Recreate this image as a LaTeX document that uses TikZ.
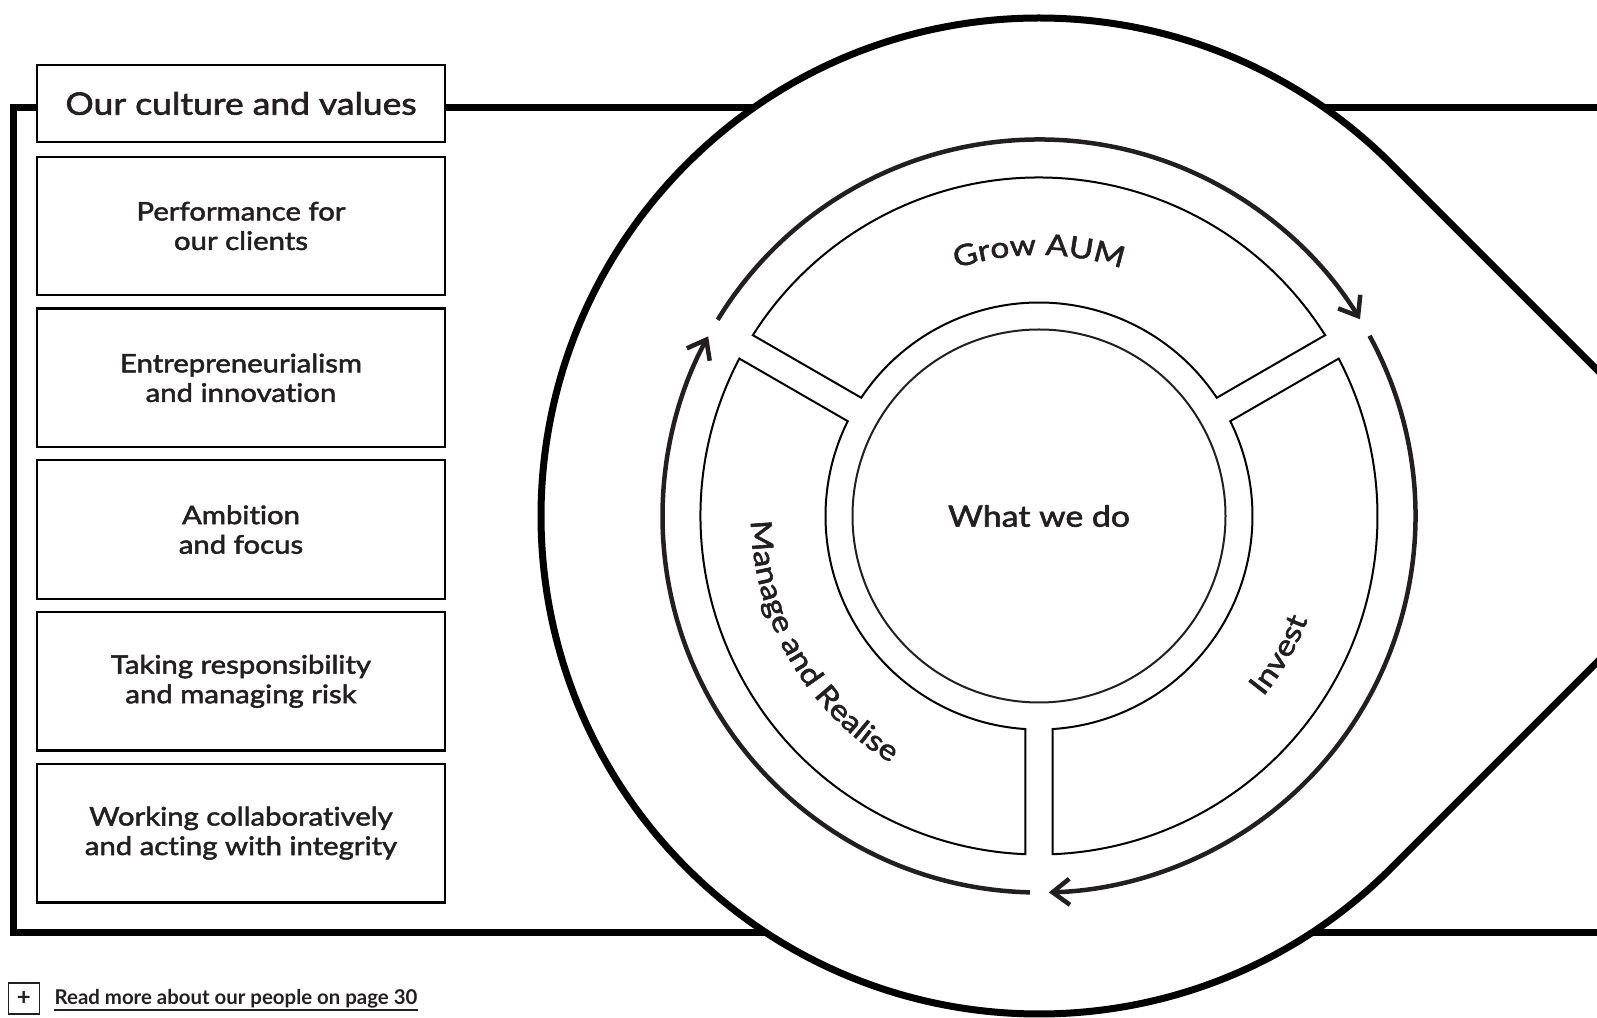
\documentclass[tikz,border=0pt]{standalone}
\usepackage{fontspec}
\setmainfont{Lato}
\newfontfamily\labelfont{Lato}[FakeStretch=1.15, FakeBold=2, Ligatures=NoCommon]
\usepackage{tikz}
\usetikzlibrary{arrows.meta, positioning, decorations.text}
\definecolor{ink}{HTML}{231F20}

\begin{document}
\begin{tikzpicture}[x=0.5pt, y=0.5pt, on grid, node distance=75.9pt,
	valuebox/.style={draw=black, line width=1.15pt, fill=white, minimum width=204pt, minimum height=69.25pt, inner sep=0pt, align=center, text=ink, font=\labelfont\fontsize{12.75}{14.75}\selectfont},
	titlebox/.style={valuebox, minimum height=38.5pt, font=\labelfont\fontsize{15.4}{18}\selectfont},
	plate/.style={line width=3.5pt, black},
	sector/.style={line width=1pt, black},
	flow/.style={line width=2.25pt, ink, -{Straight Barb[length=8.5pt, width=13pt]}},
	segtext/.style={decorate, decoration={text along path, text align=center, text={|\labelfont\fontsize{14.5}{16}\selectfont\color{ink}|#1}}}]
	\useasboundingbox (0,0) rectangle (1597,1018);
	\clip (0,0) rectangle (1597,1018);
	
	% frame and the circle
	\draw[plate] (1610,910.5) -- (13,910.5) -- (13,85) -- (1610,85);
	\coordinate (hub) at (1039,502);
	\draw[plate, fill=white] (hub) ++(45:498) arc[start angle=45, end angle=315, radius=498] -- ++(45:498) -- cycle;
	
	% values
	\node[titlebox] (culture) at (241,914.5) {Our culture and values};
	\node[valuebox, below=61.25pt of culture] (clients) {Performance for\\our clients};
	\node[valuebox, below=of clients] (enterprise) {Entrepreneurialism\\and innovation};
	\node[valuebox, below=of enterprise] (ambition) {Ambition\\and focus};
	\node[valuebox, below=of ambition] (risk) {Taking responsibility\\and managing risk};
	\node[valuebox, below=of risk] (integrity) {Working collaboratively\\and acting with integrity};
	
	% what we do
	\node[circle, draw=ink, line width=1pt, minimum size=186.5pt, text=ink, font=\labelfont\fontsize{14.7}{18}\selectfont] (core) at (hub) {What we do};
	\begin{scope}[shift={(1039,502)}]
		\foreach \a in {30,150,270}
			\draw[sector] (\a+2.29:338.5) arc[start angle=\a+2.29, end angle=\a+117.71, radius=338.5]
				-- (\a+116.37:213.5) arc[start angle=\a+116.37, end angle=\a+3.63, radius=213.5] -- cycle;
		\foreach \a in {30,150,270}
			\draw[flow] (\a+118.6:376.5) arc[start angle=\a+118.6, end angle=\a+1.5, radius=376.5];
		\path[segtext=Grow AUM] (130:261) arc[start angle=130, end angle=50, radius=261];
		\path[segtext=Invest] (-80:288) arc[start angle=-80, end angle=20, radius=288];
		\path[segtext=Manage and Realise] (155:288) arc[start angle=155, end angle=265, radius=288];
	\end{scope}
	
	% footer
	\node[draw=ink, line width=0.65pt, minimum size=15.5pt, inner sep=0pt, text=ink, font=\bfseries\fontsize{12}{12}\selectfont] (more) at (23.8,19.5) {+};
	\node[anchor=base west, inner sep=0pt, text=ink, font=\bfseries\fontsize{10.2}{12}\selectfont] (readmore) at (54.3,13) {Read more about our people on page 30};
	\draw[ink, line width=0.6pt] ([yshift=-2.5pt]readmore.base west) -- ([yshift=-2.5pt]readmore.base east);
\end{tikzpicture}
\end{document}
